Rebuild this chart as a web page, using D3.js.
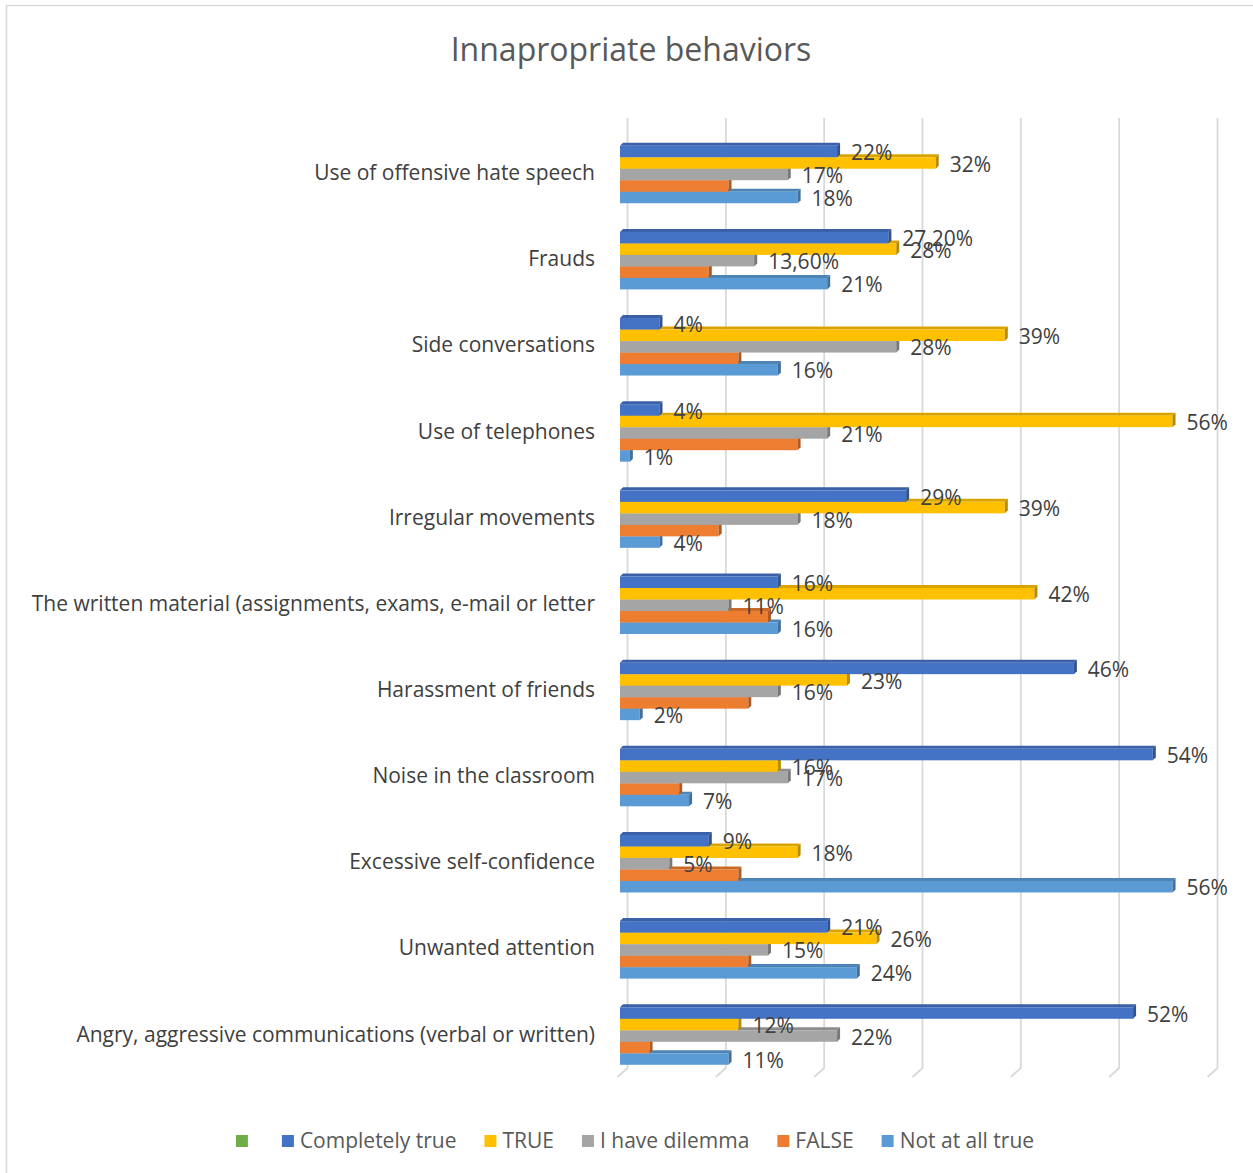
<!DOCTYPE html>
<html>
<head>
<meta charset="utf-8">
<script src="https://cdn.jsdelivr.net/npm/d3@7/dist/d3.min.js"></script>
<style>
  html, body { margin: 0; padding: 0; background: #ffffff; }
  svg { display: block; }
</style>
</head>
<body>
<svg id="chart" width="1253" height="1173"></svg>
<script>
// Survey categories, listed top to bottom
const categories = [
  "Use of offensive hate speech",
  "Frauds",
  "Side conversations",
  "Use of telephones",
  "Irregular movements",
  "The written material (assignments, exams, e-mail or letter",
  "Harassment of friends",
  "Noise in the classroom",
  "Excessive self-confidence",
  "Unwanted attention",
  "Angry, aggressive communications (verbal or written)"
];

// Answer series (percent of respondents)
const completelyTrue = [22, 27.2, 4, 4, 29, 16, 46, 54, 9, 21, 52];
const trueValues     = [32, 28, 39, 56, 39, 42, 23, 16, 18, 26, 12];
const haveDilemma    = [17, 13.6, 28, 21, 18, 11, 16, 17, 5, 15, 22];
const falseValues    = [11, 9, 12, 18, 10, 15, 13, 6, 12, 13, 3];
const notAtAllTrue   = [18, 21, 16, 1, 4, 16, 2, 7, 56, 24, 11];

const seriesNames  = ["Completely true", "TRUE", "I have dilemma", "FALSE", "Not at all true"];
const seriesValues = [completelyTrue, trueValues, haveDilemma, falseValues, notAtAllTrue];
const seriesLabels = [true, true, true, false, true]; // FALSE has no data labels

// Legend entries (the first one is an empty series)
const legendNames = ["", "Completely true", "TRUE", "I have dilemma", "FALSE", "Not at all true"];

const gridTicks = [0, 10, 20, 30, 40, 50, 60];

const colors = {
  "":                "#70AD47",
  "Completely true": "#4472C4",
  "TRUE":            "#FFC000",
  "I have dilemma":  "#A5A5A5",
  "FALSE":           "#ED7D31",
  "Not at all true": "#5B9BD5"
};

const FONT = "'Open Sans', 'Noto Sans', sans-serif";
const LABEL_SIZE = 21;
const svg = d3.select("#chart");

// chart frame
svg.append("rect")
  .attr("x", 6.5).attr("y", 5.5)
  .attr("width", 1300).attr("height", 1300)
  .attr("fill", "none").attr("stroke", "#d9d9d9").attr("stroke-width", 1.5);

// title
svg.append("text")
  .attr("x", 631).attr("y", 61)
  .attr("text-anchor", "middle")
  .attr("font-family", FONT).attr("font-size", 32)
  .attr("fill", "#595959")
  .text("Innapropriate behaviors");

// scales
const x = d3.scaleLinear().domain([0, 60]).range([620, 1212]);
const wallX = d3.scaleLinear().domain([0, 60]).range([627.5, 1217.5]);
const y = d3.scaleBand().domain(categories).range([131.4, 1079.1]).paddingInner(0).paddingOuter(0);
const barH = 11.5;
const depth = 3;
const groupH = barH * seriesNames.length;
const inner = d3.scaleBand().domain(seriesNames).range([0, groupH]);

// back-wall gridlines with slanted floor ends
const grid = svg.append("g");
gridTicks.forEach(t => {
  const gx = wallX(t);
  grid.append("path")
    .attr("d", `M${gx},118 L${gx},1068 L${gx - 10},1077`)
    .attr("fill", "none")
    .attr("stroke", "#d9d9d9")
    .attr("stroke-width", 1.8);
});

// bars: drawn from the bottom series upward so upper bars cover lower top faces
const bars = svg.append("g");
categories.forEach((cat, ci) => {
  const g0 = y(cat) + (y.bandwidth() - groupH) / 2;
  for (let si = seriesNames.length - 1; si >= 0; si--) {
    const name = seriesNames[si];
    const v = seriesValues[si][ci];
    const base = d3.color(colors[name]);
    const x0 = x(0), x1 = x(v);
    const yt = g0 + inner(name);
    const yb = yt + barH;
    // top face
    bars.append("path")
      .attr("d", `M${x0},${yt} L${x1},${yt} L${x1 + depth},${yt - depth} L${x0 + depth},${yt - depth} Z`)
      .attr("fill", base.darker(0.45));
    // front face
    bars.append("rect")
      .attr("x", x0).attr("y", yt)
      .attr("width", Math.max(0, x1 - x0)).attr("height", barH)
      .attr("fill", base);
    // right side face
    bars.append("path")
      .attr("d", `M${x1},${yt} L${x1 + depth},${yt - depth} L${x1 + depth},${yb - depth} L${x1},${yb} Z`)
      .attr("fill", base.darker(0.9));
  }
});

// data labels
const fmt = v => Number.isInteger(v) ? `${v}%` : v.toFixed(2).replace(".", ",") + "%";
const labels = svg.append("g")
  .attr("font-family", FONT).attr("font-size", LABEL_SIZE).attr("fill", "#404040");
categories.forEach((cat, ci) => {
  const g0 = y(cat) + (y.bandwidth() - groupH) / 2;
  seriesNames.forEach((name, si) => {
    if (!seriesLabels[si]) return;
    const v = seriesValues[si][ci];
    labels.append("text")
      .attr("x", x(v) + depth + 11)
      .attr("y", g0 + inner(name) + barH / 2 + 3)
      .attr("dominant-baseline", "middle")
      .text(fmt(v));
  });
});

// category labels
const catG = svg.append("g")
  .attr("font-family", FONT).attr("font-size", LABEL_SIZE).attr("fill", "#404040");
categories.forEach(cat => {
  catG.append("text")
    .attr("x", 595)
    .attr("y", y(cat) + y.bandwidth() / 2)
    .attr("text-anchor", "end")
    .attr("dominant-baseline", "middle")
    .text(cat);
});

// legend
const legend = svg.append("g")
  .attr("font-family", FONT).attr("font-size", LABEL_SIZE).attr("fill", "#595959");
const items = legendNames.map(name => {
  const t = legend.append("text").attr("dominant-baseline", "middle").text(name);
  return { name, t, w: name ? t.node().getComputedTextLength() : 0 };
});
const sq = 12, gapSq = 6, gapItem = 28;
const total = d3.sum(items, d => sq + gapSq + d.w) + gapItem * (items.length - 1);
let lx = 635 - total / 2;
const ly = 1141;
items.forEach(d => {
  legend.append("rect")
    .attr("x", lx).attr("y", ly - sq / 2)
    .attr("width", sq).attr("height", sq)
    .attr("fill", colors[d.name]);
  d.t.attr("x", lx + sq + gapSq).attr("y", ly + 1);
  lx += sq + gapSq + d.w + gapItem;
});
</script>
</body>
</html>
